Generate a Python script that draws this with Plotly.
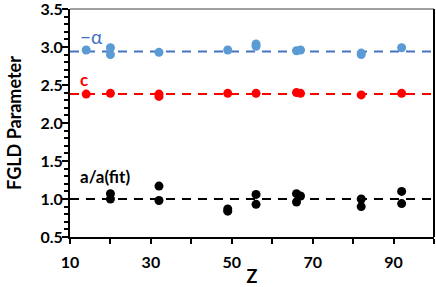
import plotly.graph_objects as go

# Data
alpha_z = [14, 20, 20, 32, 49, 56, 56, 66, 67, 82, 82, 92]
alpha_v = [2.96, 2.99, 2.90, 2.93, 2.96, 3.04, 3.01, 2.95, 2.96, 2.92, 2.90, 2.99]
alpha_fit = 2.94

c_z = [14, 20, 32, 32, 49, 56, 66, 67, 82, 92]
c_v = [2.38, 2.39, 2.38, 2.35, 2.39, 2.39, 2.40, 2.39, 2.37, 2.39]
c_fit = 2.38

a_z = [20, 20, 32, 32, 49, 49, 56, 56, 66, 66, 67, 82, 82, 92, 92]
a_v = [1.07, 1.00, 1.17, 0.98, 0.87, 0.84, 1.06, 0.93, 1.07, 0.96, 1.04, 1.00, 0.90, 1.10, 0.94]
a_fit = 1.0

x_range = [10, 100]
x_ticks = [10, 30, 50, 70, 90]
y_ticks = [0.5, 1.0, 1.5, 2.0, 2.5, 3.0, 3.5]

FONT = "Lato"
BLUE_M = "#5B9BD5"
BLUE_L = "#4472C4"
RED = "#FF0000"
BLACK = "#000000"

fig = go.Figure()
for fitv, col in [(alpha_fit, BLUE_L), (c_fit, RED), (a_fit, BLACK)]:
    fig.add_trace(go.Scatter(x=x_range, y=[fitv, fitv], mode="lines",
                             line=dict(color=col, width=2, dash="9px,7px"),
                             hoverinfo="skip"))
for zs, vs, col in [(alpha_z, alpha_v, BLUE_M), (c_z, c_v, RED), (a_z, a_v, BLACK)]:
    fig.add_trace(go.Scatter(x=zs, y=vs, mode="markers",
                             marker=dict(color=col, size=9, line=dict(width=0))))

fig.add_annotation(x=12, y=3.14, xref="x", yref="y", text="\u2212\u03b1", showarrow=False,
                   xanchor="left", yanchor="middle",
                   font=dict(family=FONT, size=19, color=BLUE_L))
fig.add_annotation(x=12, y=2.57, xref="x", yref="y", text="<b>c</b>", showarrow=False,
                   xanchor="left", yanchor="middle",
                   font=dict(family=FONT, size=17, color=RED))
fig.add_annotation(x=12, y=1.29, xref="x", yref="y", text="<b>a/a(fit)</b>", showarrow=False,
                   xanchor="left", yanchor="middle",
                   font=dict(family=FONT, size=17, color=BLACK))

# frame lines (top thin, right thick)
fig.add_shape(type="line", xref="paper", yref="paper", x0=0, x1=1, y0=1, y1=1,
              line=dict(color="#404040", width=1))
fig.add_shape(type="line", xref="paper", yref="paper", x0=1, x1=1, y0=0, y1=1,
              line=dict(color=BLACK, width=2))

fig.update_layout(
    width=436, height=287,
    margin=dict(l=70, r=2, t=9, b=50, autoexpand=False),
    paper_bgcolor="white", plot_bgcolor="white",
    showlegend=False,
    font=dict(family=FONT, size=16, color=BLACK),
    xaxis=dict(range=x_range, tickvals=x_ticks, ticktext=[f"<b>{t}</b>" for t in x_ticks],
               automargin=False, ticklabelstandoff=5,
               showgrid=False, zeroline=False, showline=True, linecolor=BLACK, linewidth=2,
               ticks="outside", ticklen=5, tickwidth=1.5, tickcolor=BLACK,
               minor=dict(dtick=10, tick0=0, ticks="outside", ticklen=5, tickwidth=1.5, tickcolor=BLACK),
               title=dict(text="<b>Z</b>", font=dict(family=FONT, size=18), standoff=0),
               tickfont=dict(family=FONT, size=16)),
    yaxis=dict(range=[0.5, 3.5], tickvals=y_ticks, ticktext=[f"<b>{t:.1f}</b>" for t in y_ticks],
               automargin=False, ticklabeloverflow="allow", ticklabelstandoff=-4,
               showgrid=False, zeroline=False, showline=True, linecolor=BLACK, linewidth=2,
               ticks="outside", ticklen=6, tickwidth=1.5, tickcolor=BLACK,
               minor=dict(dtick=0.1, tick0=0.5, ticks="outside", ticklen=4, tickwidth=1.5, tickcolor=BLACK),
               title=dict(text="<b>FGLD Parameter</b>", font=dict(family=FONT, size=18), standoff=14),
               tickfont=dict(family=FONT, size=16)),
)

fig.write_html("out.html", config={"displayModeBar": False},
               post_script="document.body.style.margin='0';document.body.style.overflow='hidden';")
